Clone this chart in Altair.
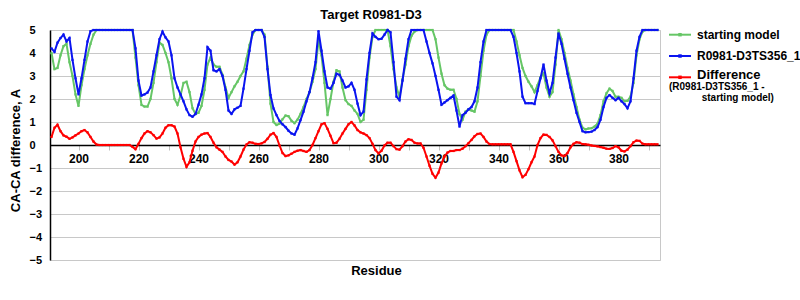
import altair as alt
import pandas as pd

# ---------------- data ----------------
residues = list(range(191, 394))

starting_model = [
    4.0, 3.3, 3.35, 3.9, 4.3, 4.4, 3.6, 3.0, 2.2, 1.7,
    2.6, 3.3, 3.9, 4.4, 4.8, 5, 5, 5, 5, 5,
    5, 5, 5, 5, 5, 5, 5, 5, 3.8, 2.6,
    1.74, 1.67, 1.67, 2.0, 2.7, 3.6, 4.45, 4.35, 4.0, 3.6,
    2.9, 2.0, 1.75, 2.15, 2.7, 2.75, 2.3, 1.6, 1.35, 1.4,
    1.7, 2.4, 3.5, 3.8, 3.5, 3.4, 3.4, 3.05, 2.5, 2.05,
    2.3, 2.55, 2.75, 3.0, 3.2, 3.75, 4.35, 4.8, 5, 5,
    5, 4.8, 3.4, 1.8, 1.0, 0.87, 0.93, 1.12, 1.28, 1.25,
    1.05, 0.95, 1.1, 1.35, 1.65, 2.0, 2.3, 2.75, 3.3, 4.55,
    3.9, 2.7, 1.3, 2.0, 2.75, 3.25, 3.2, 2.5, 1.95, 1.78,
    1.7, 1.5, 1.35, 1.0, 1.1, 2.4, 3.8, 4.7, 5, 5,
    5, 5, 5, 4.3, 3.3, 2.5, 2.1, 2.85, 3.5, 4.3,
    4.75, 4.93, 5, 5, 5, 5, 5, 5, 4.6, 3.8,
    3.1, 2.6, 2.45, 2.4, 2.4, 2.0, 1.35, 1.1, 1.45, 1.55,
    1.5, 1.45, 1.9, 3.0, 4.1, 4.8, 5, 5, 5, 5,
    5, 5, 5, 5, 5, 4.5, 3.9, 3.35, 3.0, 2.75,
    2.55, 2.3, 2.6, 2.95, 3.12, 2.5, 2.1, 2.3, 3.5, 5.0,
    4.6, 4.0, 3.35, 2.8, 2.2, 1.65, 1.1, 0.75, 0.68, 0.72,
    0.73, 0.8, 0.92, 1.3, 1.9, 2.25, 2.45, 2.35, 2.1, 2.1,
    2.05, 1.9, 1.92, 2.1, 2.7, 3.9, 4.6, 4.93, 5, 5,
    5, 5, 5,
]

model_ts356 = [
    4.2, 4.05, 4.45, 4.65, 4.8, 4.5, 4.65, 3.7, 2.9, 2.2,
    2.9, 3.7, 4.5, 4.95, 5, 5, 5, 5, 5, 5,
    5, 5, 5, 5, 5, 5, 5, 5, 4.2, 2.8,
    2.15, 2.2, 2.28, 2.5, 3.2, 3.9, 4.6, 4.93, 4.68, 4.5,
    3.9, 2.9, 2.5, 2.2, 1.9, 1.55, 1.3, 1.23, 1.35, 1.75,
    2.2, 2.9, 4.25, 4.1, 3.25, 3.2, 3.3, 3.0, 2.4, 1.5,
    1.35, 1.55, 1.62, 1.7, 2.45, 3.3, 4.1, 4.9, 5, 5,
    5, 4.7, 3.3, 2.17, 1.59, 1.3, 1.05, 0.9, 0.78, 0.62,
    0.5, 0.45, 0.72, 1.08, 1.45, 1.9, 2.3, 2.9, 3.6, 4.95,
    4.1, 3.2, 2.5, 2.45, 2.7, 3.1, 3.05, 2.8, 2.5, 2.55,
    2.7, 2.4, 1.8, 1.3, 1.45, 2.85, 4.0, 4.85, 4.7, 4.6,
    4.62, 4.8, 5, 4.9, 3.6, 2.1, 1.95, 2.8, 3.75, 4.6,
    5, 5, 5, 5, 5, 4.5, 4.0, 3.55, 3.0, 2.4,
    1.75, 1.85, 1.95, 2.05, 2.15, 1.5, 0.8, 1.3, 1.4, 1.55,
    1.65, 1.9, 2.5, 3.6, 4.5, 5, 5, 5, 5, 5,
    5, 5, 5, 5, 4.7, 4.0, 3.2, 2.1, 1.82, 1.82,
    1.82, 1.78, 2.35, 2.9, 3.5, 2.8, 2.25, 2.7, 3.8, 4.85,
    4.4, 3.75, 3.1, 2.5, 1.95, 1.4, 1.0, 0.6, 0.55, 0.56,
    0.58, 0.65, 0.78, 1.1, 1.65, 2.05, 2.17, 2.05, 1.95, 2.05,
    1.9, 1.78, 1.6, 1.9, 2.9, 4.1, 4.7, 5, 5, 5,
    5, 5, 5,
]

difference = [
    0.35, 0.75, 0.88, 0.6, 0.42, 0.36, 0.27, 0.33, 0.42, 0.5,
    0.6, 0.65, 0.55, 0.35, 0.15, 0.02, 0, 0, 0, 0,
    0, 0, 0, 0, 0, 0, 0, -0.08, -0.18, 0.05,
    0.3, 0.5, 0.6, 0.55, 0.43, 0.28, 0.33, 0.5, 0.75, 0.86,
    0.86, 0.8, 0.5, -0.1, -0.6, -0.95, -0.75, -0.25, 0.15, 0.35,
    0.45, 0.5, 0.52, 0.35, 0.1, -0.1, -0.2, -0.3, -0.5, -0.65,
    -0.72, -0.85, -0.75, -0.5, -0.2, 0.02, 0.12, 0.1, 0.05, 0.04,
    0.07, 0.13, 0.27, 0.45, 0.52, 0.35, -0.02, -0.35, -0.48, -0.45,
    -0.38, -0.3, -0.25, -0.22, -0.26, -0.3, -0.22, 0.0, 0.3, 0.6,
    0.9, 0.95, 0.7, 0.4, 0.08, 0.1, 0.27, 0.5, 0.7, 0.9,
    1.0, 0.85, 0.65, 0.55, 0.5, 0.43, 0.3, 0.05, -0.22, -0.36,
    -0.25, -0.02, 0.1, 0.1, -0.05, -0.18, -0.2, -0.05, 0.15, 0.25,
    0.22, 0.1, 0.07, 0.07, -0.12, -0.5, -0.9, -1.25, -1.42, -1.2,
    -0.8, -0.5, -0.33, -0.26, -0.26, -0.22, -0.22, -0.16, -0.05, 0.08,
    0.22, 0.38, 0.48, 0.5, 0.35, 0.15, 0.04, 0.03, 0.03, 0.03,
    0.03, 0.03, 0.03, 0.03, -0.3, -0.7, -1.1, -1.4, -1.3, -1.05,
    -0.75, -0.5, 0.0, 0.3, 0.45, 0.44, 0.35, 0.2, -0.05, -0.3,
    -0.45, -0.48, -0.35, -0.1, 0.05, 0.12, 0.1, 0.04, 0.03, 0.01,
    -0.02, -0.04, -0.06, -0.09, -0.12, -0.16, -0.17, -0.13, -0.05, -0.1,
    -0.25, -0.28, -0.2, -0.05, 0.12, 0.19, 0.18, 0.06, 0.03, 0.03,
    0.03, 0.03, 0.03,
]

chart_title = "Target R0981-D3"
series_names = ["starting model", "R0981-D3TS356_1", "Difference"]
legend_note = ["(R0981-D3TS356_1 -", "starting model)"]
series_colors = ["#66c666", "#0a14f0", "#ff0000"]
x_ticks = list(range(200, 400, 10))
y_ticks = list(range(-5, 6))

assert len(starting_model) == len(residues) == len(model_ts356) == len(difference)

df = pd.DataFrame({
    "residue": residues * 3,
    "value": starting_model + model_ts356 + difference,
    "series": [series_names[0]] * len(residues)
    + [series_names[1]] * len(residues)
    + [series_names[2]] * len(residues),
})

FONT = "Liberation Sans"

base = alt.Chart(df).encode(
    x=alt.X(
        "residue:Q",
        scale=alt.Scale(domain=[190.5, 393.83], nice=False, zero=False),
        axis=alt.Axis(
            values=x_ticks,
            labelExpr="datum.value % 20 == 0 ? datum.label : ''",
            offset=-115,
            grid=False,
            domainColor="black",
            domainWidth=1.5,
            tickColor="#c0c0c0",
            tickSize=5,
            labelPadding=3,
            labelFont=FONT,
            labelFontSize=12,
            labelFontWeight="bold",
            labelColor="black",
            title="Residue",
            titleFont=FONT,
            titleFontSize=13,
            titleFontWeight="bold",
            titleColor="black",
            titleX=326,
            titleY=125,
            titleBaseline="middle",
        ),
    ),
    y=alt.Y(
        "value:Q",
        scale=alt.Scale(domain=[-5, 5], nice=False),
        axis=alt.Axis(
            values=y_ticks,
            grid=True,
            gridColor="#c8c8c8",
            domainColor="black",
            domainWidth=1.5,
            ticks=False,
            labelAlign="left",
            labelPadding=21,
            labelFont=FONT,
            labelFontSize=11,
            labelFontWeight="bold",
            labelColor="black",
            title="CA-CA difference, A",
            titleFont=FONT,
            titleFontSize=13,
            titleFontWeight="bold",
            titleColor="black",
            titleX=-35,
            titleY=120,
            titleBaseline="middle",
        ),
    ),
)

lines = []
for name, col in zip(series_names, series_colors):
    sub = base.transform_filter(alt.datum.series == name)
    lines.append(sub.mark_line(color=col, strokeWidth=2))
    lines.append(sub.mark_point(shape="square", size=5, filled=True, color=col, opacity=1))

one = pd.DataFrame({"k": [0]})
legend_rows_y = [4.7, 26, 47.3]
legend_text_y = [4.7, 26, 45]
legend_sizes = [12, 12, 13]
deco = []
deco.append(
    alt.Chart(one).mark_text(
        text=chart_title, align="center", baseline="alphabetic", font=FONT,
        fontSize=13, fontWeight="bold", color="black"
    ).encode(x=alt.value(321), y=alt.value(-11.5))
)
for name, col, ly, ty, fs in zip(series_names, series_colors, legend_rows_y, legend_text_y, legend_sizes):
    deco.append(
        alt.Chart(one).mark_rule(color=col, strokeWidth=2).encode(
            x=alt.value(619), x2=alt.value(641), y=alt.value(ly)
        )
    )
    deco.append(
        alt.Chart(one).mark_square(color=col, size=12, opacity=1).encode(
            x=alt.value(630), y=alt.value(ly)
        )
    )
    deco.append(
        alt.Chart(one).mark_text(
            text=name, align="left", baseline="middle", font=FONT,
            fontSize=fs, fontWeight="bold", color="black"
        ).encode(x=alt.value(647), y=alt.value(ty))
    )
deco.append(
    alt.Chart(one).mark_text(
        text=legend_note[0], align="left", baseline="middle", font=FONT,
        fontSize=10, fontWeight="bold", color="black"
    ).encode(x=alt.value(619), y=alt.value(57.3))
)
deco.append(
    alt.Chart(one).mark_text(
        text=legend_note[1], align="left", baseline="middle", font=FONT,
        fontSize=10, fontWeight="bold", color="black"
    ).encode(x=alt.value(651.7), y=alt.value(68.3))
)

chart = alt.layer(*lines, *deco).properties(
    width=610,
    height=230,
    autosize=alt.AutoSizeParams(type="none"),
    padding={"left": 50, "top": 30, "right": 140, "bottom": 40},
    background="white",
).configure_view(stroke="#c8c8c8", strokeWidth=1)

chart.save("out.html", embed_options={"renderer": "svg", "actions": False})
